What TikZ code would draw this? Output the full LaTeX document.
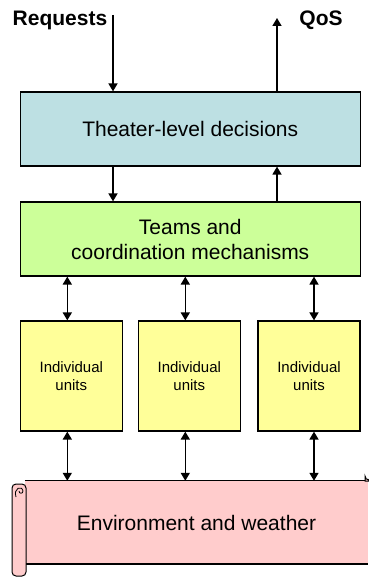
\documentclass[tikz,border=0pt]{standalone}
\usepackage{fontspec}
\setmainfont{Liberation Sans}
\usetikzlibrary{arrows.meta}
\definecolor{theaterblue}{RGB}{189,224,227}
\definecolor{teamgreen}{RGB}{204,255,153}
\definecolor{unityellow}{RGB}{255,255,153}
\definecolor{envpink}{RGB}{255,204,204}
\tikzset{
  layerbox/.style={draw,line width=1.2pt,minimum width=340pt,minimum height=74pt,
    align=center,font=\fontsize{21}{25}\selectfont},
  unitbox/.style={draw,fill=unityellow,line width=1.2pt,minimum width=102pt,
    minimum height=110pt,align=center,font=\fontsize{15}{18}\selectfont},
  flow/.style={line width=1.5pt,-{Triangle[length=8pt,width=9pt]}},
  twoway/.style={line width=1.5pt,{Triangle[length=8pt,width=9pt]}-{Triangle[length=8pt,width=9pt]}},
}
\begin{document}
\begin{tikzpicture}[x=1pt,y=-1pt]
   \useasboundingbox (0,0) rectangle (368,578);
   % labels at the top
   \node[font=\bfseries\fontsize{21}{25}\selectfont] (requests) at (60,20) {Requests};
   \node[font=\bfseries\fontsize{21}{25}\selectfont] (qos) at (321,20) {QoS};
   \coordinate (reqin) at (113,15);
   \coordinate (qosout) at (277,18);
   % layers
   \node[layerbox,fill=theaterblue] (theater) at (190.25,129) {Theater-level decisions};
   \node[layerbox,fill=teamgreen] (teams) at (190.25,239) {Teams and\\coordination mechanisms};
   \node[unitbox] (unitA) at (71.3,376) {Individual\\units};
   \node[unitbox] (unitB) at (189.3,376) {Individual\\units};
   \node[unitbox] (unitC) at (309,376) {Individual\\units};
   % environment scroll
   \node[fill=envpink,minimum width=343pt,minimum height=83pt,
     font=\fontsize{21}{25}\selectfont] (env) at (196.5,522.5) {Environment and weather};
   \draw[line width=1pt] (env.north west) -- (env.north east);
   \draw[line width=1.6pt] (env.south west) -- (env.south east);
   \draw[fill=envpink,line width=1pt,rounded corners=4pt] (12,484) rectangle (26,576);
   \draw[line width=0.8pt] (16,497) .. controls (13,488) and (22,485) .. (23,491) .. controls (23,494) and (19,494) .. (19,491);
   \draw[fill=envpink,line width=1pt] (365,481) -- (365,476) arc[start angle=180,end angle=90,radius=4] -- (372,472) -- (372,481) -- cycle;
   % connectors
   \draw[flow] (reqin) -- (theater.north -| reqin);
   \draw[flow] (theater.north -| qosout) -- (qosout);
   \draw[flow] (theater.south -| reqin) -- (teams.north -| reqin);
   \draw[flow] (teams.north -| qosout) -- (theater.south -| qosout);
   \foreach \u/\dx in {unitA/-4,unitB/-4,unitC/5} {
     \draw[twoway] ([xshift=\dx]\u.north |- teams.south) -- ([xshift=\dx]\u.north);
     \draw[twoway] ([xshift=\dx]\u.south) -- ([xshift=\dx]\u.south |- env.north);
   }
 \end{tikzpicture}
\end{document}
